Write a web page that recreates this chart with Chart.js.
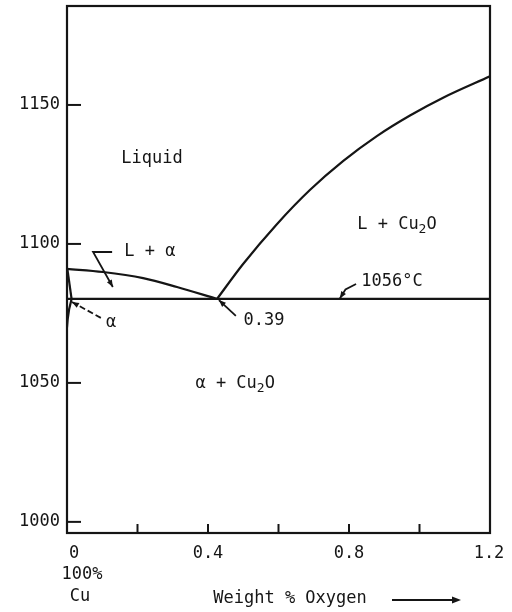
<!DOCTYPE html>
<html>
<head>
<meta charset="utf-8">
<script src="https://cdn.jsdelivr.net/npm/chart.js@4.4.1/dist/chart.umd.min.js"></script>
<style>
  html, body { margin: 0; padding: 0; background: #fff; }
  canvas { display: block; }
</style>
</head>
<body>
<canvas id="phase" width="512" height="612"></canvas>
<script>
// boundary curves (x = wt% O, y = temperature)
const liquidusAlphaX = [0, 0.102, 0.216, 0.312, 0.4255];
const liquidusAlphaY = [1091.0, 1089.9, 1087.7, 1084.5, 1080.2];

const liquidusOxideX = [0.4255, 0.499, 0.596, 0.689, 0.783, 0.879, 0.973, 1.067, 1.2];
const liquidusOxideY = [1080.2, 1092.7, 1107.2, 1119.4, 1129.8, 1138.8, 1146.2, 1152.6, 1160.3];

const solidusX = [0.001, 0.013];
const solidusY = [1091.0, 1080.2];

const solvusX = [0.013, 0.006, 0.002, 0];
const solvusY = [1080.2, 1076.5, 1073.0, 1070.0];

const eutecticX = [0, 1.2];
const eutecticY = [1080.2, 1080.2];

const yTicks = [1000, 1050, 1100, 1150];
const xTicks = [0.2, 0.4, 0.6, 0.8, 1.0];
const xTickLabels = ["0", "0.4", "0.8", "1.2"];
const xLabelValues = [0, 0.4, 0.8, 1.2];

function pts(xs, ys) {
    return xs.map((x, i) => ({ x: x, y: ys[i] }));
}

const ink = "#151515";
const fontName = "'DejaVu Sans Mono', monospace";

function line(data, smooth) {
    return {
        data: data,
        showLine: true,
        borderColor: ink,
        borderWidth: 2.2,
        pointRadius: 0,
        fill: false,
        cubicInterpolationMode: smooth ? "monotone" : "default",
        tension: smooth ? 0.4 : 0
    };
}

// text labels placed in data units; parts marked true are subscripts
const regionLabels = [
    { x: 0.241, y: 1130.6, parts: [["Liquid", false]] },
    { x: 0.936, y: 1106.8, parts: [["L + Cu", false], ["2", true], ["O", false]] },
    { x: 0.477, y: 1049.6, parts: [["\u03b1 + Cu", false], ["2", true], ["O", false]] },
    { x: 0.235, y: 1097.1, parts: [["L + \u03b1", false]] },
    { x: 0.125, y: 1071.6, parts: [["\u03b1", false]] },
    { x: 0.559, y: 1072.6, parts: [["0.39", false]] },
    { x: 0.922, y: 1086.3, parts: [["1056\u00b0C", false]] }
];

// leader lines, arrowhead at the last point
const leaders = [
    { pts: [[0.128, 1097.1], [0.074, 1097.1], [0.130, 1084.5]], dash: [] },
    { pts: [[0.096, 1073.4], [0.014, 1079.1]], dash: [6, 3] },
    { pts: [[0.479, 1074.1], [0.431, 1079.8]], dash: [] },
    { pts: [[0.820, 1085.6], [0.790, 1083.6], [0.774, 1080.4]], dash: [] }
];

function drawRich(ctx, parts, cx, cy, size) {
    const big = size + "px " + fontName;
    const small = Math.round(size * 0.75) + "px " + fontName;
    let w = 0;
    parts.forEach(p => {
        ctx.font = p[1] ? small : big;
        w += ctx.measureText(p[0]).width;
    });
    let x = cx - w / 2;
    ctx.textAlign = "left";
    ctx.textBaseline = "middle";
    parts.forEach(p => {
        ctx.font = p[1] ? small : big;
        ctx.fillText(p[0], x, p[1] ? cy + 5 : cy);
        x += ctx.measureText(p[0]).width;
    });
}

function arrowHead(ctx, x0, y0, x1, y1, len, half) {
    const a = Math.atan2(y1 - y0, x1 - x0);
    ctx.beginPath();
    ctx.moveTo(x1, y1);
    ctx.lineTo(x1 - len * Math.cos(a) + half * Math.sin(a), y1 - len * Math.sin(a) - half * Math.cos(a));
    ctx.lineTo(x1 - len * Math.cos(a) - half * Math.sin(a), y1 - len * Math.sin(a) + half * Math.cos(a));
    ctx.closePath();
    ctx.fill();
}

const decorations = {
    id: "decorations",
    afterDraw(chart) {
        const ctx = chart.ctx;
        const a = chart.chartArea;
        const xs = chart.scales.x;
        const ys = chart.scales.y;
        ctx.save();
        ctx.strokeStyle = ink;
        ctx.fillStyle = ink;

        // frame
        ctx.lineWidth = 2.2;
        ctx.strokeRect(a.left, a.top, a.right - a.left, a.bottom - a.top);

        // inward ticks
        ctx.lineWidth = 2;
        yTicks.forEach(v => {
            const py = ys.getPixelForValue(v);
            ctx.beginPath();
            ctx.moveTo(a.left, py);
            ctx.lineTo(a.left + 14, py);
            ctx.stroke();
        });
        xTicks.forEach(v => {
            const px = xs.getPixelForValue(v);
            ctx.beginPath();
            ctx.moveTo(px, a.bottom);
            ctx.lineTo(px, a.bottom - 9);
            ctx.stroke();
        });

        // tick labels
        ctx.font = "17px " + fontName;
        ctx.textAlign = "right";
        ctx.textBaseline = "middle";
        yTicks.forEach(v => {
            ctx.fillText(String(v), a.left - 7, ys.getPixelForValue(v));
        });
        ctx.textAlign = "center";
        xLabelValues.forEach((v, i) => {
            let px = xs.getPixelForValue(v);
            if (v === 0) px += 7;
            if (v === 1.2) px -= 1;
            ctx.fillText(xTickLabels[i], px, a.bottom + 21);
        });
        ctx.fillText("100%", a.left + 15, a.bottom + 42);
        ctx.fillText("Cu", a.left + 13, a.bottom + 64);

        // axis title with arrow
        ctx.fillText("Weight % Oxygen", a.left + 223, a.bottom + 66);
        ctx.lineWidth = 2;
        ctx.beginPath();
        ctx.moveTo(a.left + 325, a.bottom + 67);
        ctx.lineTo(a.left + 388, a.bottom + 67);
        ctx.stroke();
        arrowHead(ctx, a.left + 325, a.bottom + 67, a.left + 394, a.bottom + 67, 9, 3.5);

        // region labels
        regionLabels.forEach(l => {
            drawRich(ctx, l.parts, xs.getPixelForValue(l.x), ys.getPixelForValue(l.y), 17);
        });

        // leaders
        ctx.lineWidth = 1.8;
        leaders.forEach(l => {
            const p = l.pts.map(q => [xs.getPixelForValue(q[0]), ys.getPixelForValue(q[1])]);
            ctx.setLineDash(l.dash);
            ctx.beginPath();
            ctx.moveTo(p[0][0], p[0][1]);
            for (let i = 1; i < p.length; i++) ctx.lineTo(p[i][0], p[i][1]);
            ctx.stroke();
            ctx.setLineDash([]);
            const n = p.length;
            arrowHead(ctx, p[n - 2][0], p[n - 2][1], p[n - 1][0], p[n - 1][1], 7, 2.8);
        });

        ctx.restore();
    }
};

const ctx = document.getElementById("phase").getContext("2d");
new Chart(ctx, {
    type: "scatter",
    data: {
        datasets: [
            line(pts(liquidusAlphaX, liquidusAlphaY), true),
            line(pts(liquidusOxideX, liquidusOxideY), true),
            line(pts(solidusX, solidusY), false),
            line(pts(solvusX, solvusY), false),
            line(pts(eutecticX, eutecticY), false)
        ]
    },
    options: {
        responsive: false,
        animation: false,
        layout: { padding: { left: 67, right: 22, top: 6, bottom: 79 } },
        plugins: {
            legend: { display: false },
            tooltip: { enabled: false }
        },
        scales: {
            x: { type: "linear", display: false, min: 0, max: 1.2 },
            y: { type: "linear", display: false, min: 996, max: 1185.6 }
        }
    },
    plugins: [decorations]
});
</script>
</body>
</html>
